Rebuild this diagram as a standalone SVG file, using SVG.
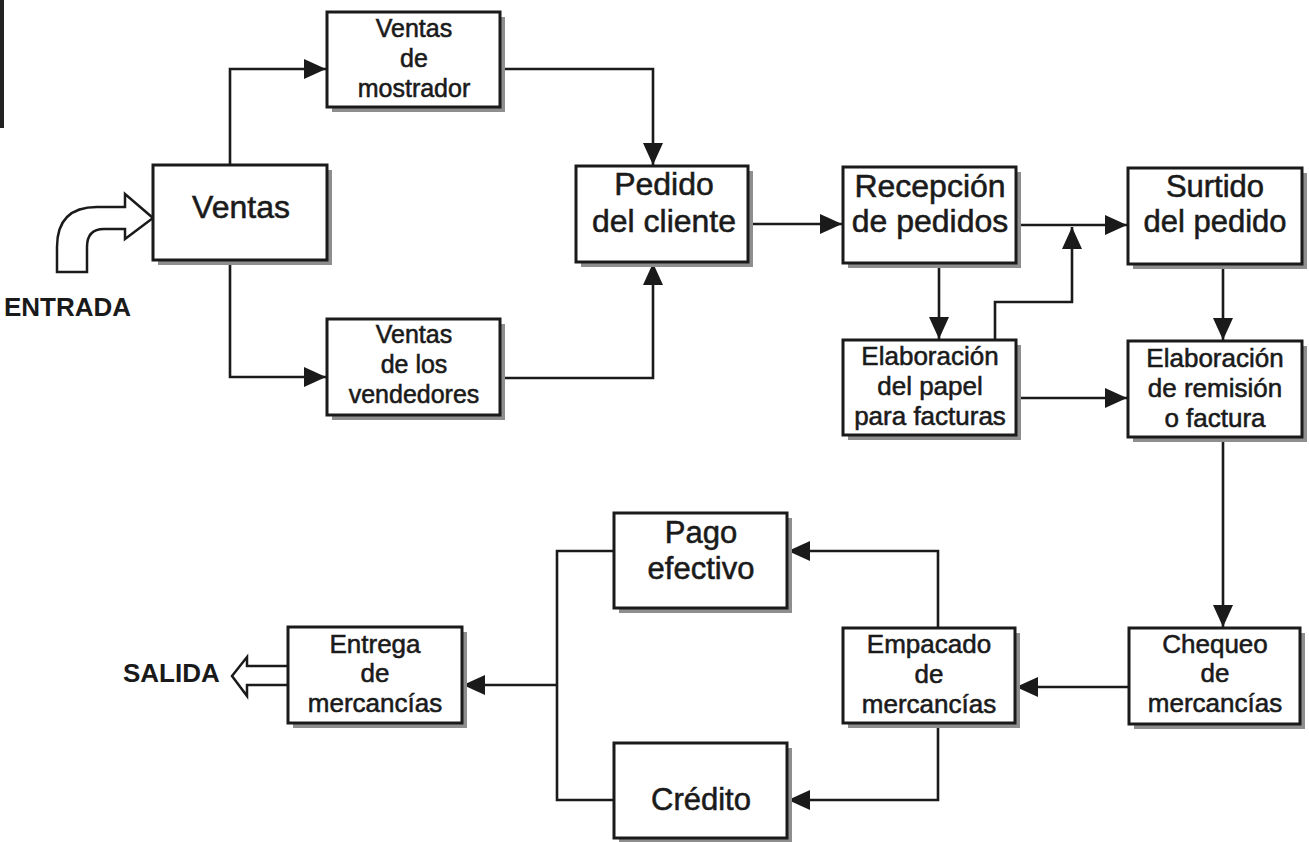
<svg xmlns="http://www.w3.org/2000/svg" width="1309" height="842" viewBox="0 0 1309 842">
<defs>
<style>
.box{fill:#fff;stroke:#1a1a1a;stroke-width:3}
.sh{fill:#8e8e8e}
.t{font-family:"Liberation Sans",Arial,sans-serif;fill:#1a1a1a;text-anchor:middle;stroke:#1a1a1a;stroke-width:0.55}
.big{font-size:32px}
.mid{font-size:31px}
.sm{font-size:26px}
.xs{font-size:25px}
.lbl{font-family:"Liberation Sans",Arial,sans-serif;font-weight:bold;font-size:26px;fill:#1a1a1a}
.c{fill:none;stroke:#1a1a1a;stroke-width:2.6}
.blk{fill:#fff;stroke:#1a1a1a;stroke-width:2.5;stroke-linejoin:miter}
</style>
<marker id="ah" markerUnits="userSpaceOnUse" markerWidth="22" markerHeight="20" refX="22" refY="10" orient="auto">
<path d="M0,0 L22,10 L0,20 Z" fill="#1a1a1a"/>
</marker>
</defs>
<rect width="1309" height="842" fill="#fff"/>
<rect x="0" y="0" width="4" height="128" fill="#222"/>

<g id="connectors">
<path class="c" d="M230,165 V69 H326" marker-end="url(#ah)"/>
<path class="c" d="M230,260 V377 H326" marker-end="url(#ah)"/>
<path class="c" d="M500,69 H653 V165" marker-end="url(#ah)"/>
<path class="c" d="M500,378 H653 V263" marker-end="url(#ah)"/>
<path class="c" d="M748,224 H842" marker-end="url(#ah)"/>
<path class="c" d="M1016,225 H1127" marker-end="url(#ah)"/>
<path class="c" d="M939,263 V339" marker-end="url(#ah)"/>
<path class="c" d="M995,340 V302 H1072 V227" marker-end="url(#ah)"/>
<path class="c" d="M1016,398 H1127" marker-end="url(#ah)"/>
<path class="c" d="M1223,264 V340" marker-end="url(#ah)"/>
<path class="c" d="M1223,437 V627" marker-end="url(#ah)"/>
<path class="c" d="M1129,687 H1016" marker-end="url(#ah)"/>
<path class="c" d="M938,628 V551 H788" marker-end="url(#ah)"/>
<path class="c" d="M938,723 V800 H788" marker-end="url(#ah)"/>
<path class="c" d="M614,551 H557 V800 H614"/>
<path class="c" d="M557,685 H463" marker-end="url(#ah)"/>
</g>

<g id="entrada">
<path class="blk" d="M57,272 V247 Q57,207 97,207 H125 V194 L153,218 L125,239 V229 H104 Q87,229 87,247 V272 Z"/>
<text class="lbl" x="4" y="316">ENTRADA</text>
</g>

<g id="salida">
<path class="blk" d="M288,666 H247 V657 L232,676 L247,696 V685 H288"/>
<text class="lbl" x="123" y="682">SALIDA</text>
</g>

<g id="ventas">
<rect class="sh" x="158" y="170" width="174" height="95"/>
<rect class="box" x="153" y="165" width="174" height="95"/>
<text class="t big" x="241" y="218">Ventas</text>
</g>

<g id="mostrador">
<rect class="sh" x="332" y="17" width="173" height="95"/>
<rect class="box" x="327" y="12" width="173" height="95"/>
<text class="t xs" x="414" y="37">Ventas</text>
<text class="t xs" x="414" y="67">de</text>
<text class="t xs" x="414" y="97">mostrador</text>
</g>

<g id="vendedores">
<rect class="sh" x="332" y="324" width="173" height="96"/>
<rect class="box" x="327" y="319" width="173" height="96"/>
<text class="t xs" x="414" y="343">Ventas</text>
<text class="t xs" x="414" y="373">de los</text>
<text class="t xs" x="414" y="403">vendedores</text>
</g>

<g id="pedido">
<rect class="sh" x="581" y="171" width="172" height="96"/>
<rect class="box" x="576" y="166" width="172" height="96"/>
<text class="t big" x="664" y="195">Pedido</text>
<text class="t big" x="664" y="232">del cliente</text>
</g>

<g id="recepcion">
<rect class="sh" x="848" y="172" width="173" height="96"/>
<rect class="box" x="843" y="167" width="173" height="96"/>
<text class="t big" x="930" y="197">Recepción</text>
<text class="t big" x="930" y="232">de pedidos</text>
</g>

<g id="surtido">
<rect class="sh" x="1133" y="173" width="174" height="96"/>
<rect class="box" x="1128" y="168" width="174" height="96"/>
<text class="t mid" x="1215" y="197">Surtido</text>
<text class="t mid" x="1215" y="232">del pedido</text>
</g>

<g id="papel">
<rect class="sh" x="848" y="345" width="173" height="95"/>
<rect class="box" x="843" y="340" width="173" height="95"/>
<text class="t sm" x="930" y="365">Elaboración</text>
<text class="t sm" x="930" y="395">del papel</text>
<text class="t sm" x="930" y="425">para facturas</text>
</g>

<g id="remision">
<rect class="sh" x="1133" y="346" width="174" height="96"/>
<rect class="box" x="1128" y="341" width="174" height="96"/>
<text class="t sm" x="1215" y="367">Elaboración</text>
<text class="t sm" x="1215" y="397">de remisión</text>
<text class="t sm" x="1215" y="427">o factura</text>
</g>

<g id="chequeo">
<rect class="sh" x="1134" y="633" width="171" height="96"/>
<rect class="box" x="1129" y="628" width="171" height="96"/>
<text class="t sm" x="1215" y="653">Chequeo</text>
<text class="t sm" x="1215" y="682">de</text>
<text class="t sm" x="1215" y="712">mercancías</text>
</g>

<g id="empacado">
<rect class="sh" x="848" y="633" width="172" height="95"/>
<rect class="box" x="843" y="628" width="172" height="95"/>
<text class="t sm" x="929" y="653">Empacado</text>
<text class="t sm" x="929" y="683">de</text>
<text class="t sm" x="929" y="713">mercancías</text>
</g>

<g id="pago">
<rect class="sh" x="619" y="518" width="173" height="95"/>
<rect class="box" x="614" y="513" width="173" height="95"/>
<text class="t mid" x="701" y="543">Pago</text>
<text class="t mid" x="701" y="579">efectivo</text>
</g>

<g id="credito">
<rect class="sh" x="619" y="748" width="173" height="95"/>
<rect class="box" x="614" y="743" width="173" height="95"/>
<text class="t mid" x="701" y="810">Crédito</text>
</g>

<g id="entrega">
<rect class="sh" x="293" y="632" width="174" height="96"/>
<rect class="box" x="288" y="627" width="174" height="96"/>
<text class="t sm" x="375" y="653">Entrega</text>
<text class="t sm" x="375" y="682">de</text>
<text class="t sm" x="375" y="712">mercancías</text>
</g>
</svg>
